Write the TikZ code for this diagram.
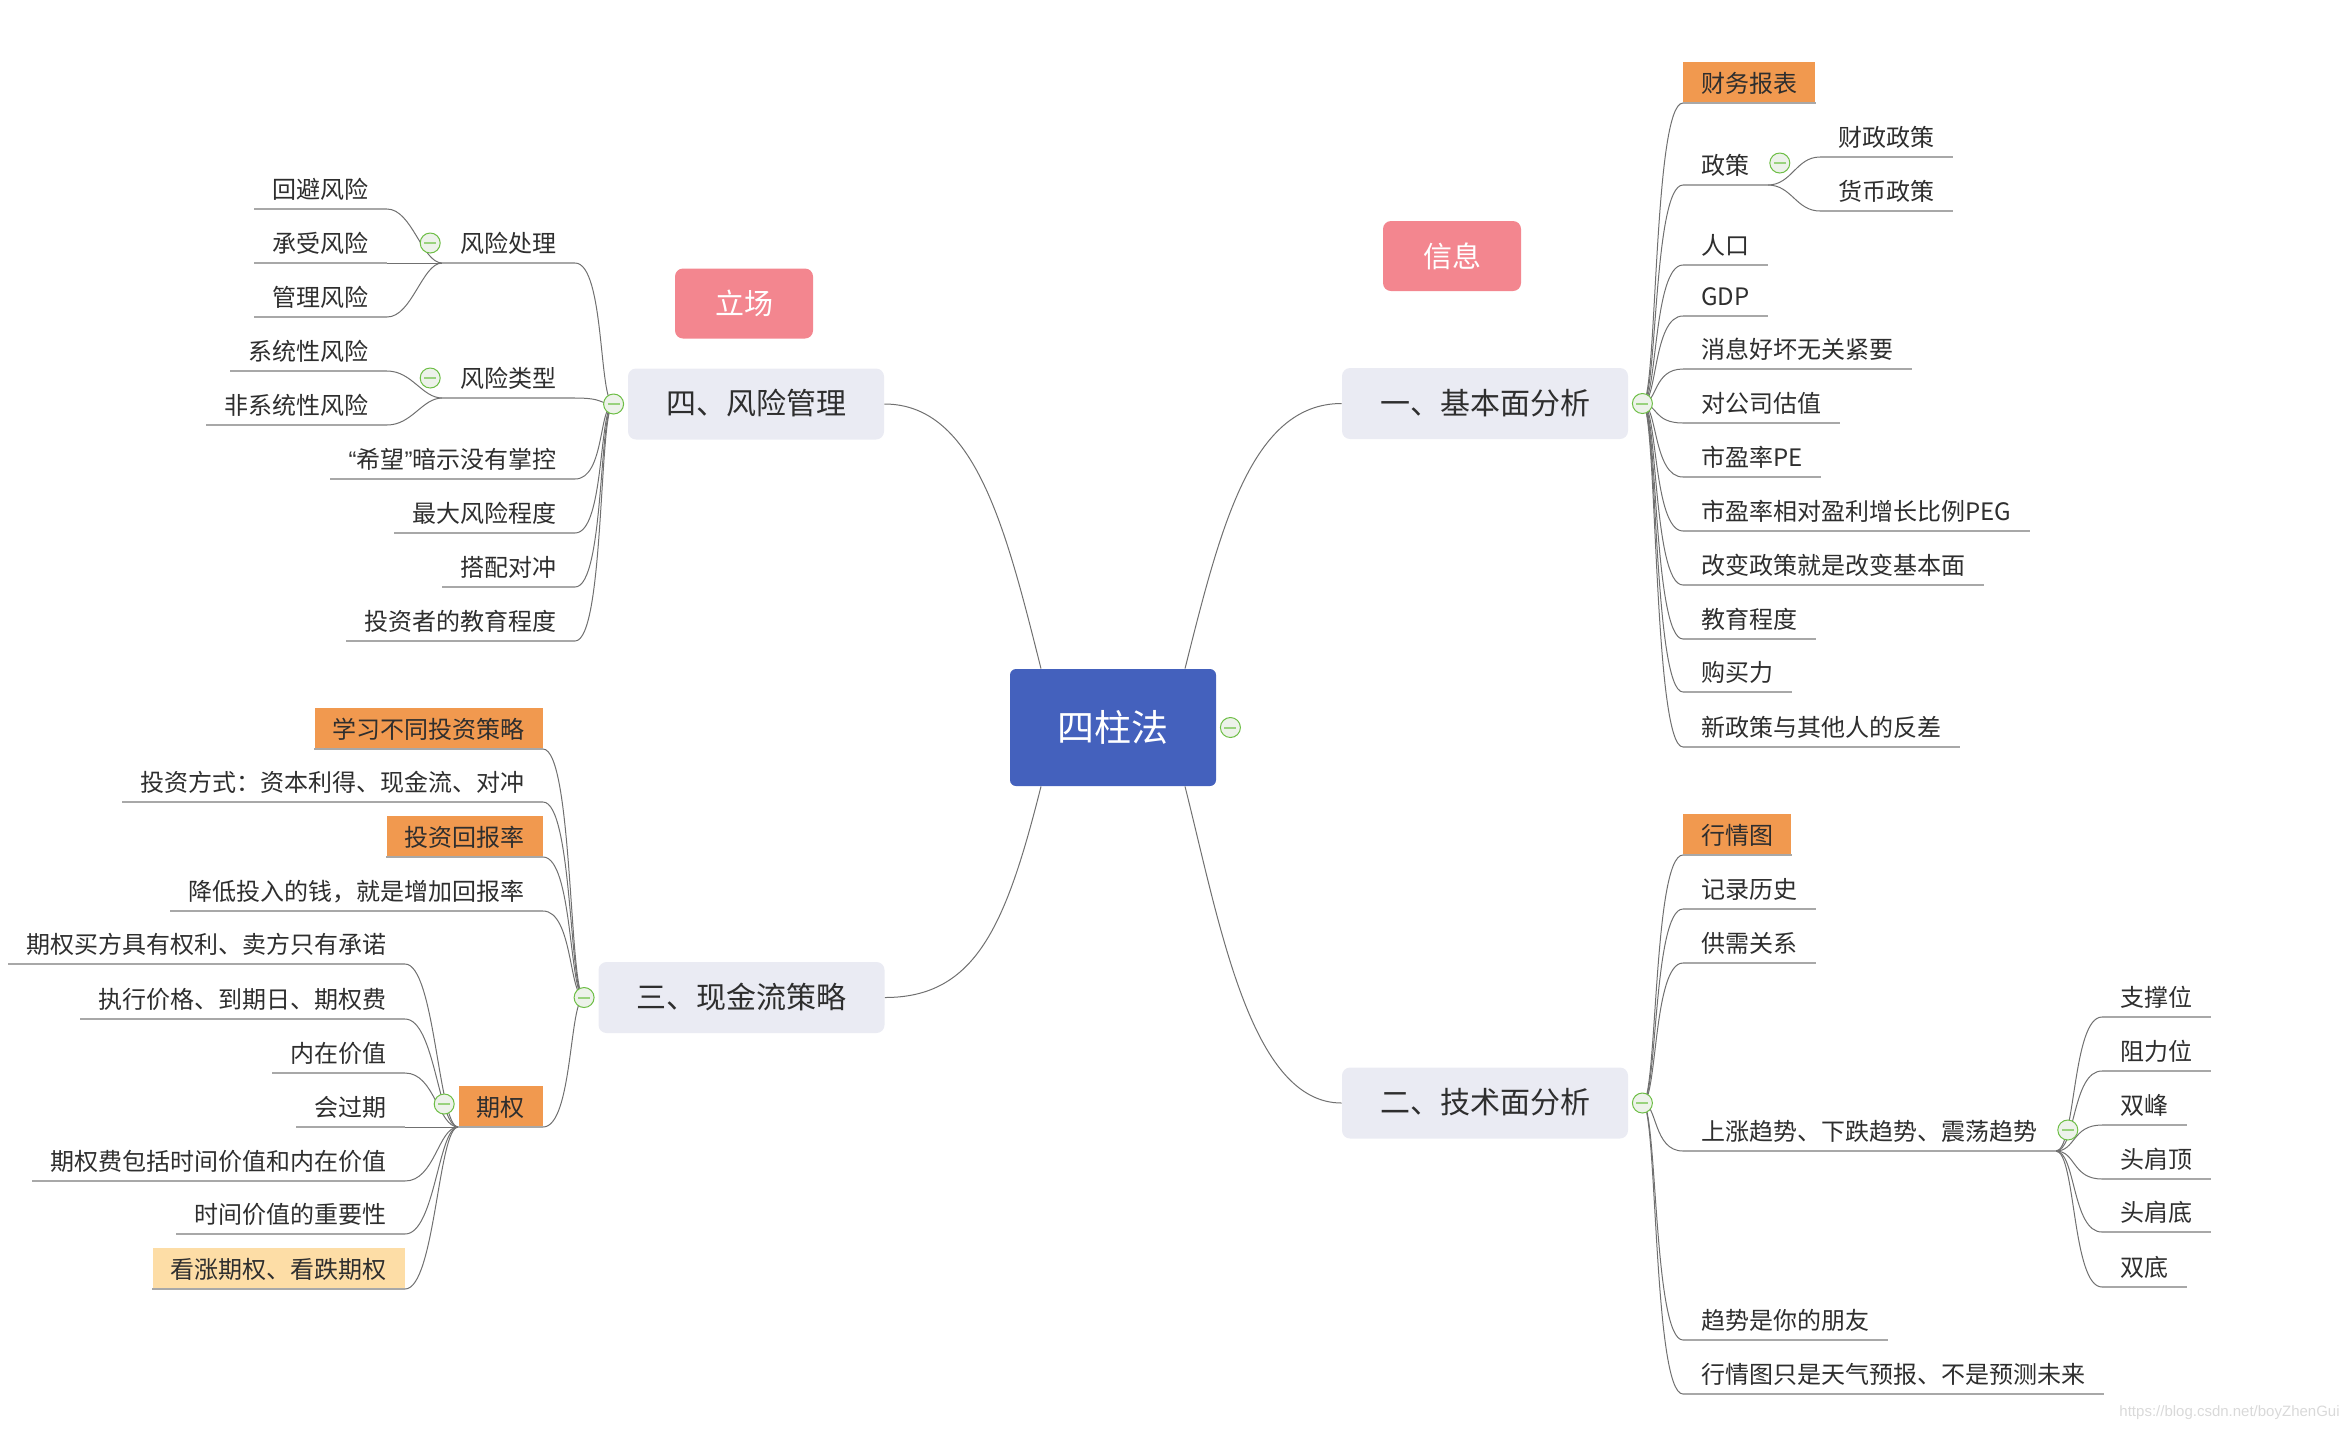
\documentclass[tikz,border=0pt]{standalone}
\usepackage{fontspec}
\setmainfont{Noto Sans CJK SC}
\newfontfamily\urlfont{Liberation Sans}
\usetikzlibrary{positioning}
\definecolor{hubblue}{HTML}{4461BD}
\definecolor{topicgray}{HTML}{EAEBF3}
\definecolor{tagpink}{HTML}{F3868F}
\definecolor{boxorange}{HTML}{F1994F}
\definecolor{boxpale}{HTML}{FDDDA6}
\definecolor{txtgray}{HTML}{2E2E2E}
\definecolor{linegray}{HTML}{A8A8A8}
\definecolor{edgegray}{HTML}{707070}
\definecolor{minusgreen}{HTML}{6DBE45}
\definecolor{minusfill}{HTML}{EDF2EA}
\tikzset{
    hubnode/.style = {rounded corners=3pt, fill=hubblue, text=white, minimum width=103pt, minimum height=58.5pt, font=\fontsize{18.5}{22}\selectfont},
    topicnode/.style = {rounded corners=4pt, fill=topicgray, text=txtgray, inner xsep=19pt, minimum height=35.5pt, text height=12pt, text depth=1.5pt, font=\fontsize{15}{18}\selectfont},
    tagnode/.style = {rounded corners=4pt, fill=tagpink, text=white, minimum width=69pt, minimum height=35pt, font=\fontsize{14.5}{17}\selectfont},
    leaf/.style = {inner xsep=9pt, inner ysep=0pt, minimum height=20.5pt, text height=11.5pt, text depth=1pt, text=txtgray, font=\fontsize{12}{14}\selectfont},
    leafr/.style = {leaf, anchor=south west},
    leafl/.style = {leaf, anchor=south east},
    boxr/.style = {leafr, fill=boxorange},
    boxl/.style = {leafl, fill=boxorange},
    boxpl/.style = {leafl, fill=boxpale},
    uline/.style = {draw=linegray, line width=0.75pt},
    edgel/.style = {draw=edgegray, line width=0.5pt},
    minusnode/.style = {circle, draw=minusgreen, fill=minusfill, line width=0.5pt, minimum size=10pt, inner sep=0pt,
        path picture={\draw[minusgreen!70, line width=1pt] ([xshift=-3pt]path picture bounding box.center) -- ([xshift=3pt]path picture bounding box.center);}}
}

\begin{document}
\begin{tikzpicture}[x=0.5pt, y=-0.5pt]
\path[use as bounding box] (0,0) rectangle (2346,1432);
%
\node[hubnode] at (1113,727.5) (hub) {四柱法};
\node[topicnode] at (1485,403.5) (jbm) {一、基本面分析};
\node[topicnode] at (1485,1103) (jsm) {二、技术面分析};
\node[topicnode] at (741.5,997.5) (xjl) {三、现金流策略};
\node[topicnode] at (756,404) (fxgl) {四、风险管理};
\node[tagnode] at (1452,256) (xinxi) {信息};
\node[tagnode] at (744,303.5) (lichang) {立场};
%
% 一、基本面分析
\node[boxr]  at (1683,103) (cwbb) {财务报表};
\node[leafr] at (1683,185) (zc) {政策};
\node[leafr] at (1820,157) (czzc) {财政政策};
\node[leafr] at (1820,211) (hbzc) {货币政策};
\node[leafr] at (1683,265) (rk) {人口};
\node[leafr] at (1683,316) (gdp) {GDP};
\node[leafr] at (1683,369) (xx) {消息好坏无关紧要};
\node[leafr] at (1683,423) (gz) {对公司估值};
\node[leafr] at (1683,477) (pe) {市盈率PE};
\node[leafr] at (1683,531) (peg) {市盈率相对盈利增长比例PEG};
\node[leafr] at (1683,585) (gbzc) {改变政策就是改变基本面};
\node[leafr] at (1683,639) (jy) {教育程度};
\node[leafr] at (1683,692) (gml) {购买力};
\node[leafr] at (1683,747) (xzc) {新政策与其他人的反差};
%
% 二、技术面分析
\node[boxr]  at (1683,855) (hqt) {行情图};
\node[leafr] at (1683,909) (jlls) {记录历史};
\node[leafr] at (1683,963) (gxgx) {供需关系};
\node[leafr] at (1683,1151) (qs) {上涨趋势、下跌趋势、震荡趋势};
\node[leafr] at (2102,1017) (zcw) {支撑位};
\node[leafr] at (2102,1071) (zlw) {阻力位};
\node[leafr] at (2102,1125) (sf) {双峰};
\node[leafr] at (2102,1179) (jjd) {头肩顶};
\node[leafr] at (2102,1232) (jjdi) {头肩底};
\node[leafr] at (2102,1287) (sd) {双底};
\node[leafr] at (1683,1340) (py) {趋势是你的朋友};
\node[leafr] at (1683,1394) (tqyb) {行情图只是天气预报、不是预测未来};
%
% 三、现金流策略
\node[boxl]  at (543,749) (xxcl) {学习不同投资策略};
\node[leafl] at (543,802) (tzfs) {投资方式：资本利得、现金流、对冲};
\node[boxl]  at (543,857) (hbl) {投资回报率};
\node[leafl] at (543,911) (jdtr) {降低投入的钱，就是增加回报率};
\node[boxl]  at (543,1127) (qq) {期权};
\node[leafl] at (405,964) (qlcn) {期权买方具有权利、卖方只有承诺};
\node[leafl] at (405,1019) (zxjg) {执行价格、到期日、期权费};
\node[leafl] at (405,1073) (nzjz) {内在价值};
\node[leafl] at (405,1127) (hgq) {会过期};
\node[leafl] at (405,1181) (qlf) {期权费包括时间价值和内在价值};
\node[leafl] at (405,1234) (sjjz) {时间价值的重要性};
\node[boxpl] at (405,1289) (kzkd) {看涨期权、看跌期权};
%
% 四、风险管理
\node[leafl] at (575,263) (fxcl) {风险处理};
\node[leafl] at (387,209) (hbfx) {回避风险};
\node[leafl] at (387,263) (csfx) {承受风险};
\node[leafl] at (387,317) (glfx) {管理风险};
\node[leafl] at (575,398) (fxlx) {风险类型};
\node[leafl] at (387,371) (xtfx) {系统性风险};
\node[leafl] at (387,425) (fxtfx) {非系统性风险};
\node[leafl] at (575,479) (xw) {{\urlfont “}希望{\urlfont ”}暗示没有掌控};
\node[leafl] at (575,533) (zdfx) {最大风险程度};
\node[leafl] at (575,587) (dpdc) {搭配对冲};
\node[leafl] at (575,641) (jycd) {投资者的教育程度};
%
% links
\draw[edgel] ([xshift=36pt]hub.north) .. controls +(35,-139) and +(-91,0) .. (jbm.west);
\draw[edgel] ([xshift=-36pt]hub.north) .. controls +(-35,-139) and +(91,0) .. (fxgl.east);
\draw[edgel] ([xshift=-36pt]hub.south) .. controls +(-35,139) and +(91,0) .. (xjl.east);
\draw[edgel] ([xshift=36pt]hub.south) .. controls +(35,139) and +(-91,0) .. (jsm.west);
%
\foreach \n in {cwbb,zc,rk,gdp,xx,gz,pe,peg,gbzc,jy,gml,xzc}
    \draw[edgel] ([xshift=7pt]jbm.east) .. controls +(15,0) and +(-30,0) .. (\n.south west);
\foreach \n in {czzc,hbzc}
    \draw[edgel] (zc.south east) .. controls +(24,0) and +(-24,0) .. (\n.south west);
\foreach \n in {hqt,jlls,gxgx,qs,py,tqyb}
    \draw[edgel] ([xshift=7pt]jsm.east) .. controls +(15,0) and +(-30,0) .. (\n.south west);
\foreach \n in {zcw,zlw,sf,jjd,jjdi,sd}
    \draw[edgel] (qs.south east) .. controls +(20,0) and +(-30,0) .. (\n.south west);
\foreach \n in {xxcl,tzfs,hbl,jdtr,qq}
    \draw[edgel] ([xshift=-7pt]xjl.west) .. controls +(-15,0) and +(30,0) .. (\n.south east);
\foreach \n in {qlcn,zxjg,nzjz,hgq,qlf,sjjz,kzkd}
    \draw[edgel] (qq.south west) .. controls +(-20,0) and +(30,0) .. (\n.south east);
\foreach \n in {fxcl,fxlx,xw,zdfx,dpdc,jycd}
    \draw[edgel] ([xshift=-7pt]fxgl.west) .. controls +(-15,0) and +(30,0) .. (\n.south east);
\foreach \n in {hbfx,csfx,glfx}
    \draw[edgel] (fxcl.south west) .. controls +(-20,0) and +(25,0) .. (\n.south east);
\foreach \n in {xtfx,fxtfx}
    \draw[edgel] (fxlx.south west) .. controls +(-20,0) and +(25,0) .. (\n.south east);
%
% underlines
\foreach \n in {cwbb,zc,czzc,hbzc,rk,gdp,xx,gz,pe,peg,gbzc,jy,gml,xzc,
    hqt,jlls,gxgx,qs,zcw,zlw,sf,jjd,jjdi,sd,py,tqyb,
    xxcl,tzfs,hbl,jdtr,qq,qlcn,zxjg,nzjz,hgq,qlf,sjjz,kzkd,
    fxcl,hbfx,csfx,glfx,fxlx,xtfx,fxtfx,xw,zdfx,dpdc,jycd}
    \draw[uline] (\n.south west) -- (\n.south east);
%
% collapse marks
\node[minusnode] at ([xshift=7pt]hub.east) (m0) {};
\node[minusnode] at ([xshift=7pt]jbm.east) (m1) {};
\node[minusnode] at ([xshift=7pt]jsm.east) (m2) {};
\node[minusnode] at ([xshift=-7pt]xjl.west) (m3) {};
\node[minusnode] at ([xshift=-7pt]fxgl.west) (m4) {};
\node[minusnode] at ([xshift=6pt,yshift=11pt]zc.south east) (mzc) {};
\node[minusnode] at ([xshift=6pt,yshift=10.5pt]qs.south east) (mqs) {};
\node[minusnode] at ([xshift=-7pt,yshift=11.5pt]qq.south west) (mqq) {};
\node[minusnode] at ([xshift=-6pt,yshift=10pt]fxcl.south west) (mfxcl) {};
\node[minusnode] at ([xshift=-6pt,yshift=10pt]fxlx.south west) (mfxlx) {};
%
\node[anchor=east, inner sep=0pt, text=gray!30, font=\urlfont\fontsize{7.5}{9}\selectfont] at (2340,1413) (wm) {https://blog.csdn.net/boyZhenGui};
\end{tikzpicture}
\end{document}
